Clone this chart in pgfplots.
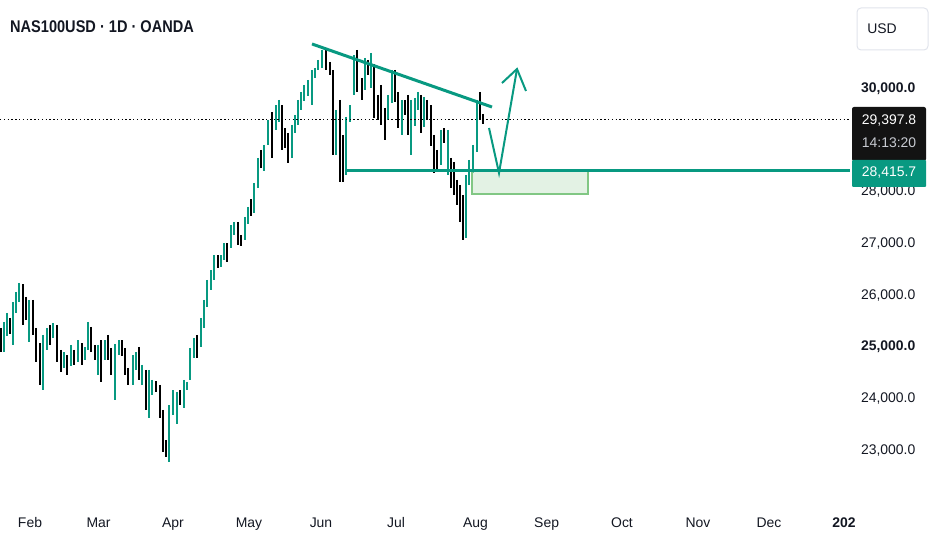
\documentclass[border=0pt]{standalone}
\usepackage{fontspec}
\setmainfont{Liberation Sans}
\newfontfamily\titlefont[FakeStretch=0.86]{Liberation Sans}
\usepackage{pgfplots}
\pgfplotsset{compat=1.18}
\usepackage{pgfplotstable}
\definecolor{upc}{RGB}{8,153,129}
\definecolor{dnc}{RGB}{0,0,0}
\definecolor{txt}{RGB}{19,23,34}
\definecolor{zonefill}{RGB}{200,230,201}
\definecolor{zoneedge}{RGB}{129,199,132}
\definecolor{boxdark}{RGB}{19,19,19}
\definecolor{timegray}{RGB}{200,203,210}

% x = chart position (px), o h l c = open high low close
\pgfplotstableread{
x o h l c
4 25098 25485 24904 25369
7 25272 25659 25214 25562
13 25330 25871 25040 25755
16 25717 26065 25659 25968
19 25910 26239 25871 26161
29 25427 25910 25098 25755
43 24401 25233 24169 25175
47 25136 25369 24943 25233
53 25272 25465 25175 25388
64 24672 24904 24595 24750
71 24692 25040 24634 24846
78 24788 25136 24711 25040
85 24846 25001 24750 24943
88 24982 25485 24943 25427
98 24711 25040 24460 24943
105 24846 25136 24750 25098
115 24401 25059 23976 24982
119 24943 25136 24846 25040
133 24305 24846 24266 24692
136 24614 24904 24556 24808
142 24421 24653 24266 24498
149 23744 24556 23628 24208
152 24169 24363 24073 24227
169 22854 23879 22777 23744
173 23744 24169 23686 24034
177 23995 24131 23512 24073
184 24015 24363 23821 24208
187 24208 24324 24169 24266
190 24421 24982 24363 24885
194 24885 25175 24788 25098
201 25078 25562 25001 25485
204 25427 25910 25369 25852
207 25813 26297 25775 26239
211 26161 26490 26103 26432
214 26355 26780 26297 26684
221 26606 26780 26548 26722
224 26742 27012 26684 26974
231 26974 27361 26916 27302
234 27225 27419 27167 27322
245 27128 27515 27070 27457
248 27419 27709 27380 27651
254 27651 28173 27593 28095
258 28134 28656 28076 28579
264 28463 28908 28405 28811
268 29062 29391 28908 29256
276 29256 29681 29198 29585
279 29430 29778 29352 29643
292 28811 29295 28656 29236
295 29198 29488 29140 29391
298 29352 29778 29295 29643
301 29643 29933 29585 29836
304 29817 30068 29759 29971
308 29913 30165 29855 30029
312 30010 30358 29681 30300
315 30262 30397 30204 30320
318 30416 30552 30358 30494
322 30455 30745 30397 30648
336 28753 29585 28714 29391
346 28386 29449 28328 29391
350 29430 29681 29352 29643
354 29971 30648 29875 30552
365 30068 30590 29971 30494
371 30068 30687 30010 30416
388 29488 29875 29391 29778
392 29778 30358 29720 30300
402 29352 29778 29101 29720
411 29159 29778 28714 29720
415 29333 29817 29275 29739
418 29643 29933 29585 29875
424 29333 29836 29256 29778
441 28618 29198 28521 29140
448 28618 29198 28328 29101
466 27167 28328 27109 28231
469 28192 28618 28134 28424
473 28424 28908 28366 28811
477 28811 29778 28772 29720
}\upbars

\pgfplotstableread{
x o h l c
1 25272 25369 24904 25001
10 25465 25562 25253 25330
23 26161 26219 25427 25871
26 25910 25968 25523 25659
33 25852 25910 25233 25330
36 25291 25369 24711 24982
40 24982 25078 24266 24324
50 25330 25427 25040 25175
57 25194 25427 24711 24808
61 24788 24943 24518 24692
67 24788 24846 24460 24711
74 24846 24943 24653 24750
82 25001 25078 24653 24788
91 25330 25388 24904 24982
95 24962 25040 24750 24904
101 24846 25136 24324 24653
108 25175 25233 24750 24846
111 24885 24982 24460 24518
122 24962 25136 24827 24904
125 24904 24982 24460 24518
128 24518 24595 24266 24305
139 24808 25001 24363 24401
146 24460 24556 23783 24015
156 24247 24343 24131 24208
160 24169 24266 23628 23686
163 23686 23783 22970 23009
166 23028 23202 22873 22970
180 24073 24169 23879 23976
197 25136 25233 24788 24846
218 26645 26780 26529 26587
227 26935 27012 26645 26819
238 27302 27419 26974 27070
241 27070 27167 26954 27032
251 27786 27863 27535 27612
261 28579 28811 28463 28521
272 29295 29546 28656 29004
282 29585 29681 28811 29062
285 29101 29236 28850 28966
288 29062 29140 28560 28811
326 30687 30784 30358 30416
330 30397 30513 30262 30300
333 30320 30358 28714 28753
340 29391 29778 28192 29062
343 29004 29101 28192 28386
357 30552 30745 29933 30029
362 30107 30204 29778 29836
368 30494 30552 30262 30358
374 30416 30474 29430 29527
378 29778 29875 29391 29527
381 29913 30068 29295 29488
385 29527 29623 29004 29062
395 30300 30358 29739 29817
398 29836 29933 29236 29333
405 29681 29778 29488 29585
408 29739 29875 29101 29198
421 29817 29875 29140 29198
427 29623 29778 29391 29527
431 29585 29681 28888 28946
434 29004 29101 28366 28579
437 28675 28811 28424 28579
444 29140 29236 28946 29004
451 28560 28656 28076 28134
454 28482 28579 27941 28037
457 28095 28231 27747 27844
460 27999 28134 27419 27496
463 27844 27941 27070 27167
480 29720 29933 29391 29449
483 29449 29507 29314 29397.8
}\dnbars

\begin{document}
\begin{tikzpicture}[x=1bp,y=1bp]
\useasboundingbox (0,0) rectangle (932,550);
\begin{axis}[
  at={(0bp,65bp)}, anchor=south west,
  scale only axis, width=850bp, height=485bp,
  xmin=0, xmax=850, ymin=22332, ymax=31712,
  axis line style={draw=none},
  major tick length=0,
  scaled y ticks=false, scaled x ticks=false,
  xtick={30,98.6,173,249,321,396,475.5,546.6,622,698,769,844},
  xticklabels={Feb,Mar,Apr,May,Jun,Jul,Aug,Sep,Oct,Nov,Dec,\textbf{202}},
  xticklabel style={anchor=base, yshift=-43bp, font=\fontsize{14}{16}\selectfont, text=txt},
  ytick={23000,24000,25000,26000,27000,28000,30000},
  yticklabels={{23,000.0},{24,000.0},{\textbf{25,000.0}},{26,000.0},{27,000.0},{28,000.0},{\textbf{30,000.0}}},
  yticklabel pos=right,
  yticklabel style={anchor=west, xshift=7.5bp, font=\fontsize{14}{16}\selectfont, text=txt},
]
% wicks
\addplot[draw=none, mark=none, forget plot, error bars/.cd, y dir=minus, y explicit, error mark=none,
  error bar style={draw=upc, line width=1.2bp}]
  table[x=x, y=h, y error expr=\thisrow{h}-\thisrow{l}] {\upbars};
\addplot[draw=none, mark=none, forget plot, error bars/.cd, y dir=minus, y explicit, error mark=none,
  error bar style={draw=dnc, line width=1.2bp}]
  table[x=x, y=h, y error expr=\thisrow{h}-\thisrow{l}] {\dnbars};
% bodies
\addplot[draw=none, mark=none, forget plot, error bars/.cd, y dir=minus, y explicit, error mark=none,
  error bar style={draw=upc, line width=2.9bp}]
  table[x=x, y=c, y error expr=\thisrow{c}-\thisrow{o}] {\upbars};
\addplot[draw=none, mark=none, forget plot, error bars/.cd, y dir=minus, y explicit, error mark=none,
  error bar style={draw=dnc, line width=2.9bp}]
  table[x=x, y=o, y error expr=\thisrow{o}-\thisrow{c}] {\dnbars};
% current price dotted line
\addplot[black, line width=1.3bp, dash pattern=on 1.3bp off 2.5bp] coordinates {(0,29397.8) (850,29397.8)};
% demand zone
\addplot[fill=zonefill, fill opacity=0.5, draw=zoneedge, line width=2bp] coordinates {(472,28415.7) (588,28415.7) (588,27960) (472,27960)} -- cycle;
% level line
\addplot[upc, line width=3bp] coordinates {(345,28415.7) (850,28415.7)};
% trend line
\addplot[upc, line width=3bp] coordinates {(312,30861) (492,29642)};
% projected path
\addplot[upc, line width=2bp] coordinates {(489,29236) (499,28366) (517,30377)};
\addplot[upc, line width=2bp] coordinates {(502,30106) (517,30377) (526,29952)};
\end{axis}
% title
\node[anchor=west, inner sep=0pt, text=txt, font=\titlefont\bfseries\fontsize{17}{20}\selectfont] at (10,523) {NAS100USD · 1D · OANDA};
% USD box
\draw[draw={rgb,255:red,224;green,227;blue,235}, line width=1bp, rounded corners=4bp] (857,500) rectangle (928,542);
\node[text=txt, font=\fontsize{14}{16}\selectfont] at (882,521) {USD};
% price labels
\fill[boxdark, rounded corners=2bp] (852,389) rectangle (926,443);
\node[text=white, font=\fontsize{14}{16}\selectfont] at (889,429) {29,397.8};
\node[text=timegray, font=\fontsize{14}{16}\selectfont] at (889,407) {14:13:20};
\fill[upc, rounded corners=1bp] (852,363) rectangle (926,390);
\node[text=white, font=\fontsize{14}{16}\selectfont] at (889,377) {28,415.7};
\end{tikzpicture}
\end{document}
